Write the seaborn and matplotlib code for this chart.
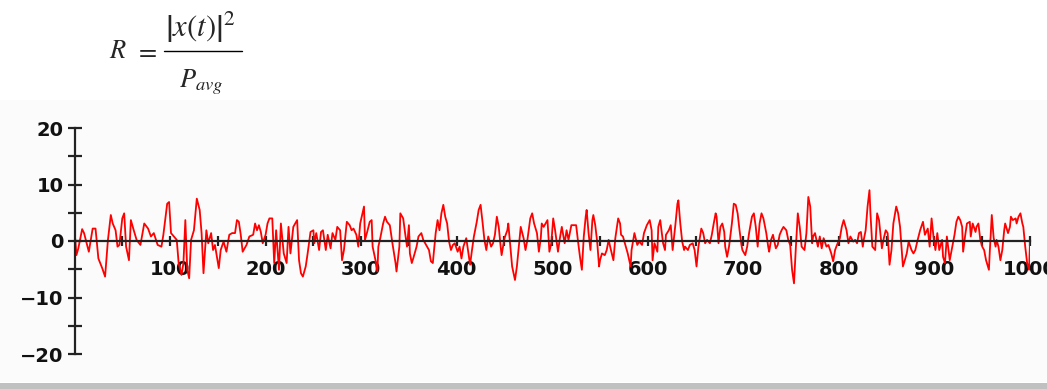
import numpy as np
import pandas as pd
import matplotlib
matplotlib.use("Agg")
import matplotlib.pyplot as plt
import seaborn as sns
from matplotlib.patches import Rectangle
from matplotlib.lines import Line2D

# samples, split into chunks of ~125 time steps
t_a = [0, 2, 4, 8, 10, 15, 19, 22, 25, 29, 32, 35, 38, 40, 43, 45, 47, 50, 52, 54, 57, 59, 62, 65, 69,
       73, 77, 80, 83, 87, 91, 93, 97, 99, 101, 104, 107, 109, 112, 114, 116, 118, 120, 122, 125]
x_a = [2.0, -2.5, -1.3, 2.1, 1.4, -1.9, 2.2, 2.2, -3.1, -4.8, -6.3, 0.2, 4.6, 3.1, 1.9, -1.0, -0.7, 4.0, 4.9, -1.0, -3.4, 3.7, 1.9, 0.2, -0.7,
       3.1, 2.2, 0.8, 1.4, -0.7, -1.0, 1.1, 6.6, 6.9, 1.4, 0.8, 0.2, -3.9, -6.0, -3.9, 3.7, -5.1, -6.6, 0.2, 1.9]

t_b = [128, 131, 133, 135, 138, 140, 143, 145, 147, 151, 153, 156, 159, 162, 165, 168, 170, 172, 174, 176, 180, 183, 187, 189, 191,
       193, 195, 197, 200, 202, 204, 207, 209, 211, 214, 216, 219, 222, 224, 226, 229, 231, 233, 235, 237, 239, 242, 244, 247, 250]
x_b = [7.5, 5.5, 1.4, -5.7, 1.9, -0.4, 1.4, -1.6, -0.7, -4.8, -1.6, -0.1, -1.9, 1.1, 1.4, 1.4, 3.7, 3.4, 1.1, -1.9, -0.7, 0.8, 1.1, 3.1, 1.9,
       2.8, 1.6, -0.4, 1.1, 3.1, 4.0, 4.0, -3.9, 1.9, -5.1, 3.1, -2.2, -3.9, 2.5, -2.2, 2.5, 3.1, 3.7, -3.4, -5.7, -6.3, -4.5, -2.2, 1.6, 1.9]

t_c = [251, 253, 256, 258, 260, 263, 265, 268, 270, 273, 275, 278, 280, 282, 285, 288, 290, 292, 295, 297, 299, 301, 303, 304, 306,
       309, 311, 312, 315, 317, 318, 320, 323, 325, 327, 330, 333, 336, 337, 340, 341, 344, 346, 348, 350, 351, 353, 355, 358, 360,
       363, 365, 368, 371, 373, 375]
x_c = [-0.4, 1.4, -1.6, 1.6, 1.9, -1.6, 1.1, -1.3, 1.4, 0.2, 2.5, 1.9, -3.4, -1.6, 3.4, 2.8, 1.9, 2.2, 1.1, -1.0, 3.1, 4.6, 6.1, 0.2, 1.4,
       3.4, 3.7, -1.0, -3.4, -5.4, -1.0, 0.5, 3.1, 4.3, 3.4, 2.8, -0.7, -3.9, -5.4, -1.0, 4.9, 4.0, 1.4, -1.0, 2.8, -2.2, -3.9, -2.8, -1.0, 0.8,
       1.4, 0.2, -0.7, -1.6, -3.6, -3.9]

t_d = [378, 380, 382, 384, 386, 388, 390, 392, 394, 396, 398, 401, 403, 405, 407, 410, 412, 414, 416, 418, 421, 423, 425, 427, 429,
       431, 433, 436, 438, 440, 442, 444, 446, 447, 450, 453, 454, 456, 458, 461, 463, 465, 467, 470, 472, 474, 477, 479, 481, 484,
       486, 488, 489, 491, 493, 495, 497, 499]
x_d = [1.4, 3.7, 1.9, 4.9, 6.4, 4.3, 3.1, -0.1, -1.6, -0.7, -0.4, -1.9, -1.0, -3.1, -1.0, 0.5, -1.9, -4.2, -1.6, 0.8, 3.4, 5.5, 6.4, 3.4, 0.2,
       -1.6, 0.8, -1.0, -0.4, 1.1, 4.3, 2.5, -1.0, -2.5, 0.5, 1.9, 3.1, -0.7, -4.5, -6.9, -4.5, -1.0, 2.5, 0.5, -1.6, 0.2, 4.0, 4.9, 3.1, 1.4,
       -1.9, 0.5, 3.1, 2.5, 3.1, 3.7, -1.9, -0.4]

t_e = [501, 503, 506, 508, 510, 513, 515, 517, 520, 522, 525, 527, 529, 531, 533, 535, 536, 538, 540, 542, 543, 545, 547, 549, 550,
       552, 555, 557, 559, 561, 564, 566, 569, 571, 572, 574, 577, 579, 582, 583, 586, 589, 591, 594, 596, 599, 602, 604, 605, 607,
       610, 611, 613, 616, 618, 619, 622, 624]
x_e = [4.0, 1.9, -1.9, 0.5, 2.5, -0.4, 1.9, 0.2, 2.8, 2.8, 2.8, -0.1, -2.8, -5.1, 0.8, 4.3, 5.5, 1.4, -1.6, 3.7, 4.6, 2.8, -0.1, -4.5, -3.4,
       -2.2, -2.5, -1.6, 0.2, -1.3, -3.4, 0.5, 4.0, 3.1, 1.1, 0.8, -1.0, -2.2, -4.5, -1.6, 1.4, -0.7, -0.1, -0.7, 1.4, 2.8, 3.7, 1.9, -3.4, -0.4,
       -1.9, 2.5, 3.7, -0.4, -1.6, 1.1, 1.9, 2.8]

t_f = [626, 629, 631, 632, 634, 636, 638, 639, 642, 644, 647, 649, 651, 653, 656, 658, 660, 662, 665, 667, 669, 671, 672, 674, 676,
       678, 680, 681, 683, 685, 688, 690, 692, 694, 696, 698, 699, 702, 704, 706, 709, 711, 713, 715, 717, 719, 721, 724, 726, 727,
       729, 731, 734, 736, 738, 740, 742, 745, 747, 749]
x_f = [-1.6, 3.1, 6.6, 7.2, 3.1, -0.1, -1.6, -1.0, -1.6, -0.7, -0.4, -1.6, -4.5, -1.0, 2.2, 1.4, -0.4, 0.2, -0.4, 1.1, 3.1, 4.9, 4.3, -0.4, 2.5,
       3.1, 1.6, -1.0, -2.8, -1.0, 3.1, 6.6, 6.4, 4.9, 1.9, -0.7, -1.6, -2.5, -1.0, 1.4, 4.3, 4.9, 2.5, -1.0, 3.1, 4.9, 4.0, 1.4, -1.0, -1.9,
       0.2, 1.1, -1.3, -0.7, 1.1, 1.9, 2.5, 1.9, 0.2, -0.7]

t_g = [751, 753, 755, 757, 759, 761, 764, 766, 768, 770, 772, 773, 775, 778, 780, 782, 784, 787, 789, 792, 794, 796, 798, 801, 803,
       805, 808, 810, 812, 815, 817, 819, 821, 823, 825, 826, 828, 830, 832, 833, 835, 838, 840, 842, 845, 847, 849, 851, 853, 855,
       857, 860, 862, 864, 867, 869, 871, 873]
x_g = [-5.1, -7.5, -1.0, 4.9, 2.5, -1.0, -1.6, 1.4, 7.8, 6.1, -0.4, 0.8, 1.4, -1.0, 0.8, -1.3, 0.5, -1.0, -0.7, -2.2, -3.6, -1.6, -0.7, 0.5, 2.5,
       3.7, 1.9, -0.4, 0.8, -0.1, 0.2, -0.4, 1.4, 1.6, -1.0, 0.2, 1.9, 6.1, 9.0, 4.9, -1.0, -1.6, 4.9, 3.7, -1.3, 0.5, 1.9, 1.4, -4.2, -1.6,
       3.1, 6.1, 4.9, 2.5, -4.5, -3.4, -2.2, -0.1]

t_h = [876, 878, 880, 882, 885, 888, 890, 893, 895, 897, 899, 901, 903, 905, 908, 909, 911, 913, 916, 918, 921, 923, 925, 927, 929,
       930, 932, 934, 937, 938, 940, 943, 944, 946, 948, 950, 952, 954, 957, 958, 960, 962, 964, 965, 967, 969, 971, 973, 974, 977,
       979, 980, 982, 985, 986, 988, 990, 992, 993, 995, 997, 999, 1000]
x_h = [-1.6, -2.2, -1.6, -0.1, 1.9, 3.4, 1.1, 2.2, -1.0, 4.0, 0.8, -1.6, 1.4, -1.6, 0.2, -2.8, -3.9, 0.8, -3.4, -1.6, 1.1, 3.4, 4.3, 3.7, 2.5,
       -1.9, 0.8, 3.1, 3.4, 0.8, 3.1, 1.6, 2.5, 3.1, 0.2, -1.0, -1.6, -3.4, -5.1, -1.6, 4.6, 0.5, -1.0, 0.2, -1.0, -3.4, -1.6, 1.9, 3.1, 1.4,
       2.5, 4.3, 3.7, 4.0, 3.1, 4.3, 4.9, 3.1, 2.5, -1.0, -3.9, -5.1, -0.1]

x_ticks = [100, 200, 300, 400, 500, 600, 700, 800, 900, 1000]
y_ticks = [-20, -10, 0, 10, 20]

df = pd.DataFrame({
    "t": t_a + t_b + t_c + t_d + t_e + t_f + t_g + t_h,
    "x": x_a + x_b + x_c + x_d + x_e + x_f + x_g + x_h,
})

sns.set_style("white")
plt.rcParams["mathtext.fontset"] = "stix"

W, H = 1047, 389
fig = plt.figure(figsize=(W / 100, H / 100), dpi=100)
fig.patch.set_facecolor("white")


def fx(px):
    return px / W


def fy(py):
    return 1 - py / H


# light panel behind the chart and grey bar at the bottom
fig.patches.append(Rectangle((0, fy(382)), 1, 282 / H, transform=fig.transFigure,
                             facecolor="#fbfbfb", edgecolor="none", zorder=-10))
fig.patches.append(Rectangle((0, 0), 1, 6 / H, transform=fig.transFigure,
                             facecolor="#c0c0c0", edgecolor="none", zorder=-10))

# formula R = |x(t)|^2 / P_avg
fig.text(fx(118), fy(51), r"$R$", fontsize=19, ha="center", va="center")
fig.text(fx(146), fy(51), r"$=$", fontsize=19, ha="center", va="center")
fig.text(fx(200), fy(27), r"$\left|x(t)\right|^2$", fontsize=22, ha="center", va="center")
fig.add_artist(Line2D([fx(164), fx(242)], [fy(51), fy(51)], color="black", lw=1.0))
fig.text(fx(201), fy(82), r"$P_{avg}$", fontsize=19, ha="center", va="center")

ax = fig.add_axes([fx(74.5), fy(354), 955.5 / W, 226 / H])
ax.set_facecolor("none")

sns.lineplot(data=df, x="t", y="x", color="red", lw=1.3, ax=ax,
             estimator=None, sort=False)

ax.set_xlim(0, 1000)
ax.set_ylim(-20, 20)
ax.set_xlabel("")
ax.set_ylabel("")

for side in ["top", "right"]:
    ax.spines[side].set_visible(False)
for side in ["left", "bottom"]:
    ax.spines[side].set_position(("data", 0))
    ax.spines[side].set_color("#222222")
    ax.spines[side].set_linewidth(1.6)

ax.set_xticks(x_ticks)
ax.set_xticks([50 + 100 * i for i in range(10)], minor=True)
ax.set_yticks(y_ticks)
ax.set_yticks([-15, -5, 5, 15], minor=True)
ax.set_xticklabels([str(v) for v in x_ticks])
ax.set_yticklabels(["\u221220", "\u221210", "0", "10", "20"])

ax.tick_params(axis="x", which="both", bottom=True, direction="inout", length=7, width=1.6,
               color="#222222", pad=10, labelsize=14)
ax.tick_params(axis="y", which="both", left=True, direction="inout", length=10, width=1.6,
               color="#222222", pad=3, labelsize=14)
for lab in ax.get_xticklabels() + ax.get_yticklabels():
    lab.set_fontweight("bold")
    lab.set_color("#111111")

fig.savefig("out.png", dpi=100)
